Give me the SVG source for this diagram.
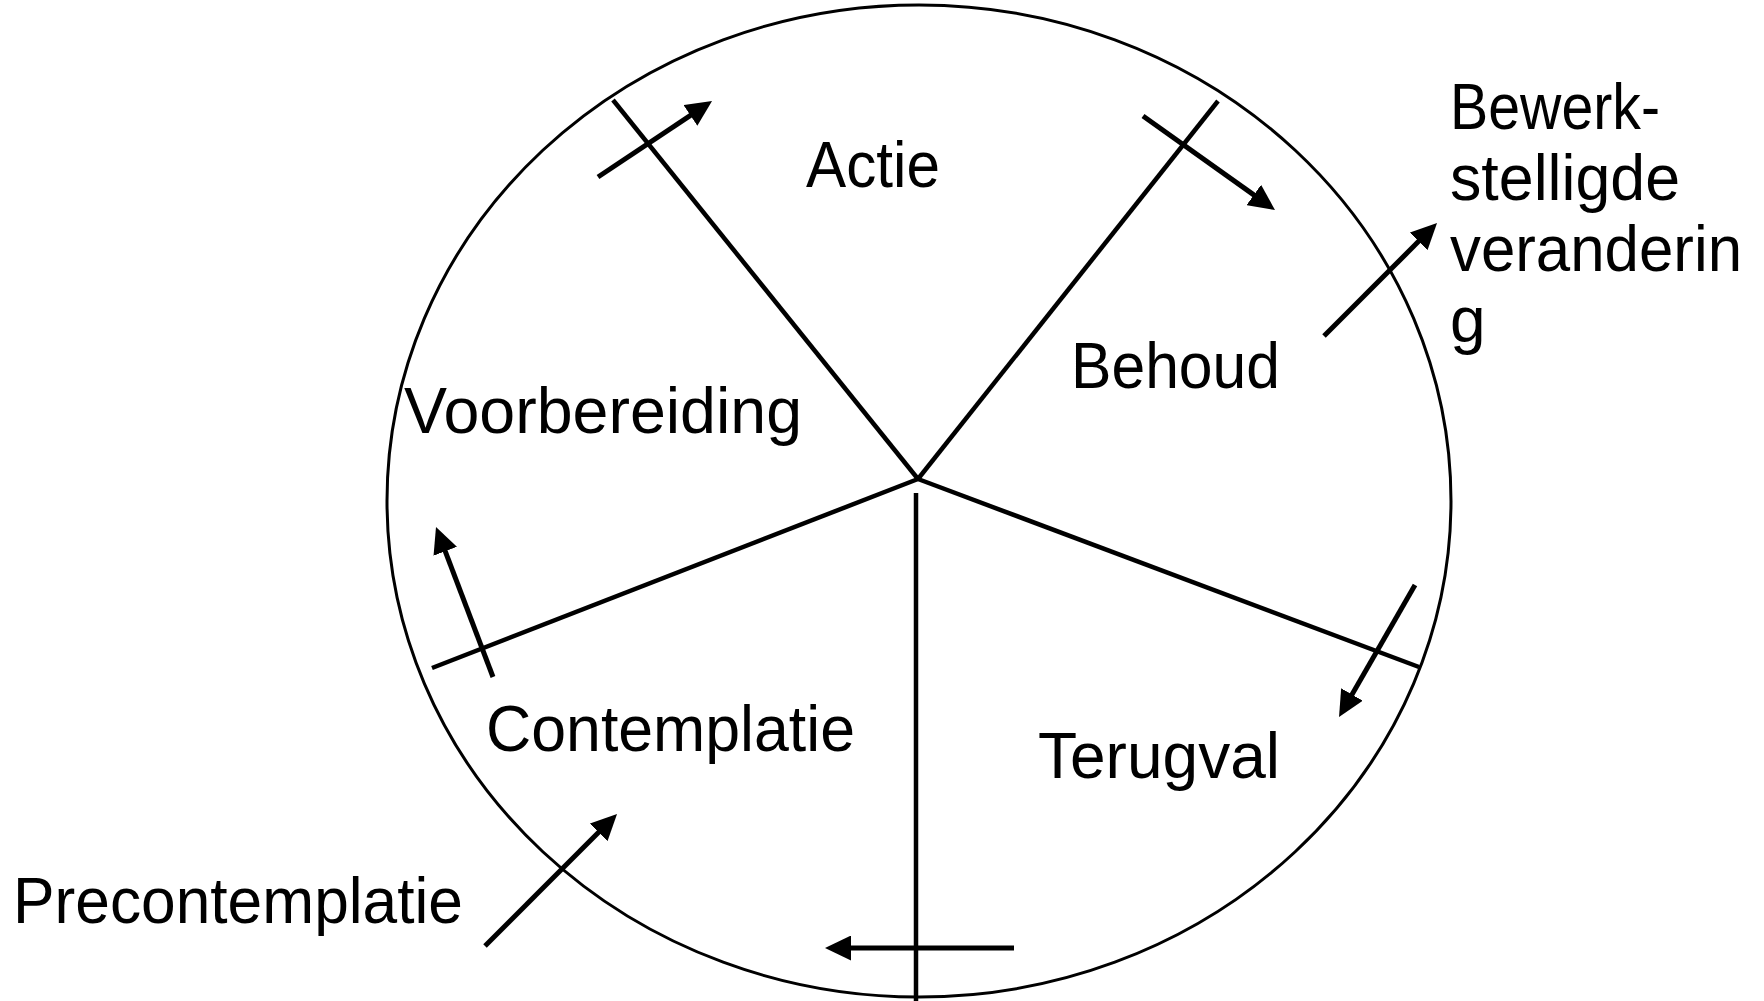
<svg xmlns="http://www.w3.org/2000/svg" width="1764" height="1001" viewBox="0 0 1764 1001">
<style>
.lbl{font-family:"Liberation Sans",Arial,sans-serif;font-size:64px;fill:#000}
.rad{stroke:#000;stroke-width:4.5;fill:none}
.arr{stroke:#000;stroke-width:5;fill:none;marker-end:url(#ah)}
</style>
<defs>
<marker id="ah" viewBox="0 0 26 25" refX="6" refY="12.5" markerWidth="26" markerHeight="25" markerUnits="userSpaceOnUse" orient="auto">
<path d="M0,0 L26,12.5 L0,25 z" fill="#000"/>
</marker>
</defs>
<rect width="1764" height="1001" fill="#fff"/>
<g id="cycle">
<ellipse cx="919" cy="501" rx="532" ry="496" fill="none" stroke="#000" stroke-width="3"/>
</g>
<g id="connectors">
<line class="rad" x1="918" y1="479" x2="613" y2="100"/>
<line class="rad" x1="918" y1="479" x2="1218" y2="101"/>
<line class="rad" x1="918" y1="479" x2="1419" y2="667"/>
<line class="rad" x1="918" y1="479" x2="432" y2="668"/>
<line class="rad" x1="916" y1="493" x2="916" y2="1001"/>
<line class="arr" x1="598" y1="177" x2="695.4" y2="112.1"/>
<line class="arr" x1="1143" y1="116" x2="1258.7" y2="198.4"/>
<line class="arr" x1="1324" y1="336" x2="1422.9" y2="237.1"/>
<line class="arr" x1="1415" y1="585" x2="1349" y2="699.7"/>
<line class="arr" x1="1014" y1="948" x2="845" y2="948"/>
<line class="arr" x1="493" y1="677" x2="443.1" y2="545.7"/>
<line class="arr" x1="485" y1="946" x2="602.9" y2="828.1"/>
</g>
<g id="actie"><text class="lbl" x="806" y="187" textLength="134" lengthAdjust="spacingAndGlyphs">Actie</text></g>
<g id="behoud"><text class="lbl" x="1071" y="388" textLength="209" lengthAdjust="spacingAndGlyphs">Behoud</text></g>
<g id="voorbereiding"><text class="lbl" x="404" y="433" textLength="398" lengthAdjust="spacingAndGlyphs">Voorbereiding</text></g>
<g id="contemplatie"><text class="lbl" x="486" y="751" textLength="369" lengthAdjust="spacingAndGlyphs">Contemplatie</text></g>
<g id="terugval"><text class="lbl" x="1038" y="778" textLength="242" lengthAdjust="spacingAndGlyphs">Terugval</text></g>
<g id="precontemplatie"><text class="lbl" x="13" y="923" textLength="450" lengthAdjust="spacingAndGlyphs">Precontemplatie</text></g>
<g id="bewerkstelligde">
<text class="lbl" x="1450" y="129" textLength="210" lengthAdjust="spacingAndGlyphs">Bewerk-</text>
<text class="lbl" x="1450" y="200" textLength="230" lengthAdjust="spacingAndGlyphs">stelligde</text>
<text class="lbl" x="1450" y="271" textLength="292" lengthAdjust="spacingAndGlyphs">veranderin</text>
<text class="lbl" x="1450" y="342">g</text>
</g>
</svg>
